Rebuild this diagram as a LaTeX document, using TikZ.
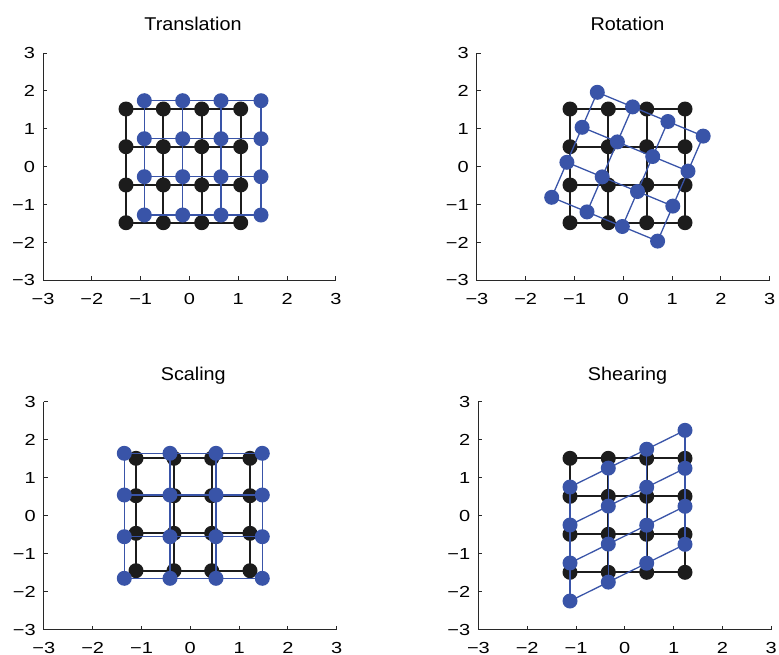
\documentclass[tikz,border=0pt]{standalone}
\usepackage{graphicx}
\usepackage{fontspec}
\setmainfont{Liberation Sans}
\definecolor{pblue}{RGB}{57,84,168}
\definecolor{pblack}{RGB}{28,28,28}
\definecolor{paxis}{RGB}{40,40,40}
\newcommand{\tl}[1]{\scalebox{1.25}[1]{#1}}
\newcommand{\myaxes}[5]{% #1 prefix, #2 x0, #3 y0, #4 sx, #5 sy
  \coordinate (#1-tl) at ({#2-3*#4},{#3-3*#5});
  \coordinate (#1-bl) at ({#2-3*#4},{#3+3*#5});
  \coordinate (#1-br) at ({#2+3*#4},{#3+3*#5});
  \draw[axisline] (#1-tl) -- (#1-bl) -- (#1-br);
  \foreach \k in {-3,...,3}{
    \draw[tickline] ({#2+\k*#4},{#3+3*#5}) -- ++(0,-4);
    \draw[tickline] ({#2-3*#4},{#3-\k*#5}) -- ++(4,0);
    \node[ticklab,anchor=north] (#1-xl\k) at ({#2+\k*#4},{#3+3*#5+12.5})
      {\tl{\ifnum\k<0 −\number-\k\else\k\fi}};
    \node[ticklab,anchor=east] (#1-yl\k) at ({#2-3*#4-8},{#3-\k*#5})
      {\tl{\ifnum\k<0 −\number-\k\else\k\fi}};
  }
}
\newcommand{\mylattice}[3]{% #1 prefix, #2 line style, #3 dot style
  \foreach \i in {1,...,4}{
    \draw[#2] (#1-\i-1) -- (#1-\i-2) -- (#1-\i-3) -- (#1-\i-4);
    \draw[#2] (#1-1-\i) -- (#1-2-\i) -- (#1-3-\i) -- (#1-4-\i);
  }
  \foreach \i in {1,...,4}{\foreach \j in {1,...,4}{
    \node[#3] (#1d-\i-\j) at (#1-\i-\j) {};}}
}
\begin{document}
\begin{tikzpicture}[x=1pt,y=-1pt,
  kline/.style={draw=pblack,line width=1.8pt},
  bline/.style={draw=pblue,line width=1.3pt},
  kdot/.style={circle,fill=pblack,minimum size=15pt,inner sep=0pt},
  bdot/.style={circle,fill=pblue,minimum size=15pt,inner sep=0pt},
  axisline/.style={draw=paxis,line width=1.1pt},
  tickline/.style={draw=paxis,line width=0.9pt},
  ticklab/.style={font=\fontsize{16}{18}\selectfont,inner sep=0pt},
  ttl/.style={font=\fontsize{18.5}{22}\selectfont,inner sep=0pt,anchor=base}]
\useasboundingbox (0,0) rectangle (779,654);

% ---------- Translation ----------
\node[ttl] (t1) at (193,30.7) {\scalebox{1.07}[1]{Translation}};
\myaxes{A}{189.5}{166.7}{48.8}{37.9}
\foreach \x [count=\j] in {126,163.3,201.7,240.7}{
  \foreach \y [count=\i] in {109,146.7,185,222.7}{
    \coordinate (Ak-\i-\j) at (\x,\y);}}
\foreach \x [count=\j] in {144.3,182.7,221,261}{
  \foreach \y [count=\i] in {100.7,138.7,176.7,215}{
    \coordinate (Ab-\i-\j) at (\x,\y);}}
\mylattice{Ak}{kline}{kdot}
\mylattice{Ab}{bline}{bdot}

% ---------- Rotation ----------
\node[ttl] (t2) at (627.5,30.7) {\scalebox{1.07}[1]{Rotation}};
\myaxes{B}{623.3}{166.7}{48.8}{37.9}
\foreach \x [count=\j] in {570,608.3,646.7,685}{
  \foreach \y [count=\i] in {109,146.7,185,222.7}{
    \coordinate (Bk-\i-\j) at (\x,\y);}}
\foreach \i in {1,...,4}{\foreach \j in {1,...,4}{
  \coordinate (Bb-\i-\j) at ({597.3+35.3*(\j-1)-15.2*(\i-1)},{92.3+14.6*(\j-1)+35.0*(\i-1)});}}
\mylattice{Bk}{kline}{kdot}
\mylattice{Bb}{bline}{bdot}

% ---------- Scaling ----------
\node[ttl] (t3) at (193.3,380) {\scalebox{1.07}[1]{Scaling}};
\myaxes{C}{190.3}{515.7}{48.8}{38}
\foreach \x [count=\j] in {136,174,211.7,250}{
  \foreach \y [count=\i] in {458.3,495.7,533.3,570.7}{
    \coordinate (Ck-\i-\j) at (\x,\y);}}
\foreach \x [count=\j] in {124.3,170,216,262.3}{
  \foreach \y [count=\i] in {453.3,495,536.7,578.3}{
    \coordinate (Cb-\i-\j) at (\x,\y);}}
\mylattice{Ck}{kline}{kdot}
\mylattice{Cb}{bline}{bdot}

% ---------- Shearing ----------
\node[ttl] (t4) at (627.5,380) {\scalebox{1.07}[1]{Shearing}};
\myaxes{D}{624.8}{515.7}{48.8}{38}
\foreach \x [count=\j] in {570,608.3,646.7,685}{
  \foreach \i in {1,...,4}{
    \coordinate (Dk-\i-\j) at (\x,{458.3+38*(\i-1)});
    \coordinate (Db-\i-\j) at (\x,{487+38*(\i-1)-18.9*(\j-1)});}}
\mylattice{Dk}{kline}{kdot}
\mylattice{Db}{bline}{bdot}
\end{tikzpicture}
\end{document}
